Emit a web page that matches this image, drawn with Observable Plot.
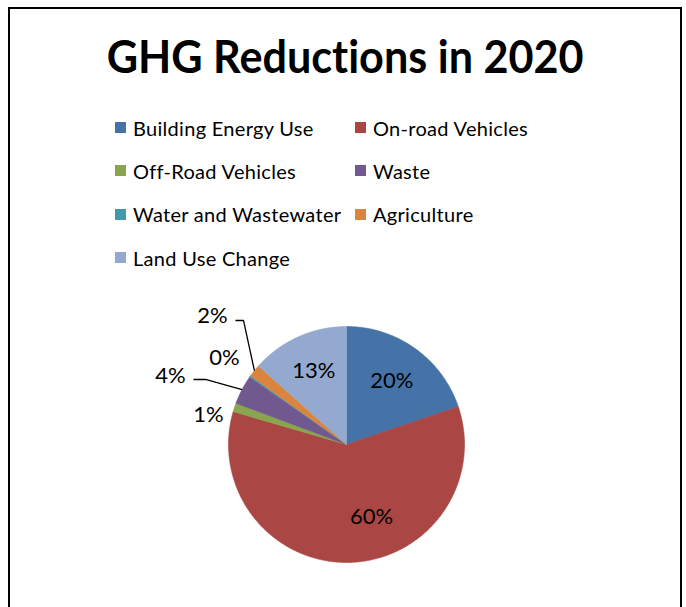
<!DOCTYPE html>
<html><head><meta charset="utf-8">
<script src="https://cdn.jsdelivr.net/npm/d3@7"></script>
<script src="https://cdn.jsdelivr.net/npm/@observablehq/plot@0.6"></script>
<style>
html,body{margin:0;padding:0;background:#fff;width:686px;height:607px;overflow:hidden;font-family:Lato,sans-serif;font-variant-ligatures:none;}
#frame{position:absolute;left:8px;top:7px;width:670px;height:640px;border:2px solid #000;border-bottom:none;}
#title{position:absolute;left:0;top:33px;width:690px;text-align:center;font:700 46px Lato,sans-serif;line-height:46px;color:#000;white-space:nowrap;font-variant-ligatures:none;}
#title span{display:inline-block;transform-origin:center;}
#legend{position:absolute;left:115px;top:106px;}
#chart{position:absolute;left:0;top:280px;}
</style></head><body>
<div id="frame"></div>
<div id="title"><span></span></div>
<div id="legend"></div>
<div id="chart"></div>
<script>
// ---- data ----
const titleText = "GHG Reductions in 2020";
const categories = ["Building Energy Use","On-road Vehicles","Off-Road Vehicles","Waste","Water and Wastewater","Agriculture","Land Use Change"];
const shares = [19.8, 59.7, 1.2, 4.0, 0.2, 1.7, 13.4];
const colors = ["#4572A7","#AA4643","#89A54E","#71588F","#4198AF","#DB843D","#93A9CF"];

// ---- label layout (pie-radius units) ----
const labelLayout = {
  "Building Energy Use": {k: 0.66},
  "On-road Vehicles": {k: 0.61, ox: 0.2},
  "Off-Road Vehicles": {at: [-1.169, 0.254]},
  "Waste": {at: [-1.492, 0.585], elbow: [-1.195, 0.551], tail: [-1.297, 0.551]},
  "Water and Wastewater": {at: [-1.034, 0.737]},
  "Agriculture": {at: [-1.136, 1.093], elbow: [-0.873, 1.051], tail: [-0.941, 1.051]},
  "Land Use Change": {k: 0.68}
};

const rows = categories.map((cat, i) => ({cat, share: shares[i]}));
const total = d3.sum(shares);
const arcs = d3.pie().sort(null).value(d => d.share)(rows);

const slicePts = [];
const labels = [];
const leaders = [];
for (const a of arcs) {
  const cat = a.data.cat;
  const span = a.endAngle - a.startAngle;
  const n = Math.max(2, Math.ceil(span / (Math.PI / 360)));
  slicePts.push({cat, x: 0, y: 0});
  for (let i = 0; i <= n; i++) {
    const t = a.startAngle + span * i / n;
    slicePts.push({cat, x: Math.sin(t), y: Math.cos(t)});
  }
  slicePts.push({cat, x: 0, y: 0});
  const mid = (a.startAngle + a.endAngle) / 2;
  const L = labelLayout[cat];
  let lx, ly;
  if (L.at) { [lx, ly] = L.at; }
  else { lx = L.k * Math.sin(mid) + (L.ox || 0); ly = L.k * Math.cos(mid) + (L.oy || 0); }
  labels.push({cat, x: lx, y: ly, text: Math.round(a.data.share / total * 100) + "%"});
  if (L.elbow) {
    leaders.push({cat, x: Math.sin(mid), y: Math.cos(mid)});
    leaders.push({cat, x: L.elbow[0], y: L.elbow[1]});
    leaders.push({cat, x: L.tail[0], y: L.tail[1]});
  }
}

// ---- title ----
const tspan = document.querySelector("#title span");
tspan.textContent = titleText;
const tw = tspan.getBoundingClientRect().width;
tspan.style.transform = `scaleX(${477 / tw})`;

// ---- legend ----
const leg = Plot.legend({
  color: {type: "ordinal", domain: categories, range: colors},
  legend: "swatches",
  swatchSize: 11
});
leg.style.cssText = "display:grid;grid-template-columns:240px 240px;grid-auto-rows:43.3px;align-items:center;font-family:Lato,sans-serif;font-size:20px;letter-spacing:0.3px;color:#000;margin:0;font-variant-ligatures:none;";
Array.from(leg.children).forEach(c => {
  if (c.tagName.toLowerCase() !== "style") { c.style.whiteSpace = "nowrap"; c.style.marginRight = "0"; }
});
leg.querySelectorAll("svg").forEach(s => { s.style.marginRight = "7px"; s.style.flexShrink = "0"; });
document.getElementById("legend").appendChild(leg);

// ---- pie ----
const chart = Plot.plot({
  width: 686,
  height: 327,
  style: {fontFamily: "Lato, sans-serif", background: "transparent", overflow: "visible"},
  x: {domain: [-1, 1], range: [228, 464], axis: null},
  y: {domain: [-1, 1], range: [282, 46], axis: null},
  color: {type: "ordinal", domain: categories, range: colors},
  marks: [
    Plot.line(slicePts, {x: "x", y: "y", z: "cat", fill: "cat", stroke: "cat", strokeWidth: 0.6, curve: "linear"}),
    Plot.line(leaders, {x: "x", y: "y", z: "cat", stroke: "#000", strokeWidth: 1.3, strokeLinejoin: "miter", strokeLinecap: "butt"}),
    Plot.text(labels, {x: "x", y: "y", text: "text", fontSize: 22, fill: "#000"})
  ]
});
document.getElementById("chart").appendChild(chart);
</script>
</body></html>
